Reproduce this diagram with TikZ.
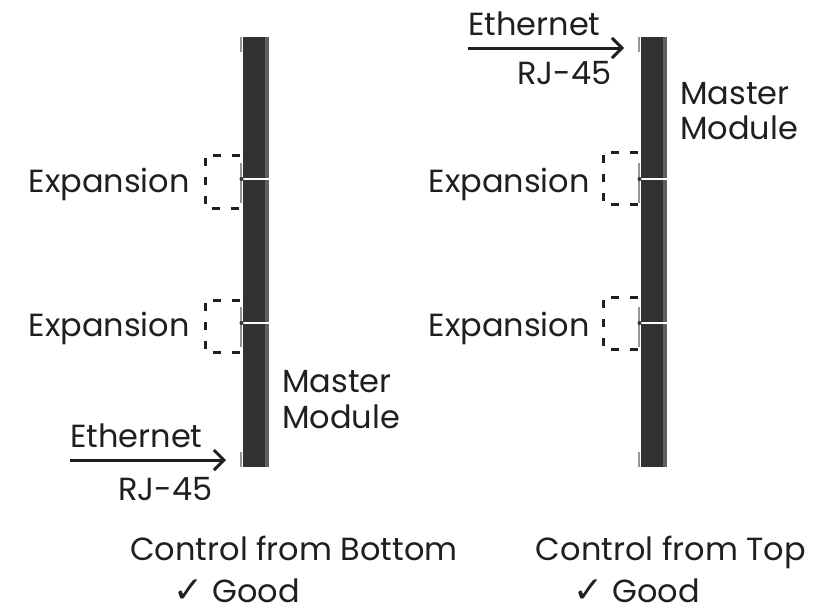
\documentclass[tikz,border=0pt]{standalone}
\usepackage{fontspec}
\setmainfont{Poppins}
\newfontfamily\symfont{DejaVu Sans}
\usetikzlibrary{arrows.meta}
\definecolor{bardark}{RGB}{50,50,50}
\definecolor{barlight}{RGB}{95,95,95}
\definecolor{tabgray}{RGB}{150,150,150}
\tikzset{
  lbl/.style={inner sep=0pt,font=\fontsize{32}{35}\selectfont,text=black!88},
  dashbox/.style={line width=3pt,dash pattern=on 8pt off 11pt,black!88},
  feed/.style={line width=3pt,black!88,-{Straight Barb[length=10pt,width=20pt,line width=3pt]}},
  tab/.style={tabgray,line width=1.2pt}
}
\begin{document}
\begin{tikzpicture}[x=1pt,y=-1pt]
\useasboundingbox (0,0) rectangle (820,614);

% the two columns
\foreach \xx/\nm in {243/left,641/right}{
  \fill[bardark] (\xx,37) rectangle ++(26,430);
  \fill[barlight] (\xx+22,37) rectangle ++(4,430);
  \draw[white,line width=2.5pt] (\xx,179) -- ++(26,0);
  \draw[white,line width=2.5pt] (\xx,323) -- ++(26,0);
  % small tabs
  \draw[tab] (\xx-2,37) -- ++(0,15);
  \draw[tab] (\xx-2,163) -- ++(0,40);
  \draw[tab] (\xx-2,307) -- ++(0,40);
  \draw[tab] (\xx-2,452) -- ++(0,15);
  \fill[bardark] (\xx-1.5,179) circle (2pt);
  \fill[bardark] (\xx-1.5,323) circle (2pt);
}

% expansion boxes
\draw[dashbox] (240,155) -- (205,155) -- (205,208) -- (240,208);
\draw[dashbox] (240,300) -- (205,300) -- (205,352) -- (240,352);
\draw[dashbox] (638,152) -- (603,152) -- (603,204) -- (638,204);
\draw[dashbox] (638,297) -- (603,297) -- (603,349) -- (638,349);

\node[lbl,anchor=base east] (expL1) at (190,192) {Expansion};
\node[lbl,anchor=base east] (expL2) at (190,336) {Expansion};
\node[lbl,anchor=base east] (expR1) at (590,192) {Expansion};
\node[lbl,anchor=base east] (expR2) at (590,336) {Expansion};

% master module
\node[lbl,anchor=base west] (mastL) at (282,392) {Master};
\node[lbl,anchor=base west] (modL) at (282,428) {Module};
\node[lbl,anchor=base west] (mastR) at (680,104) {Master};
\node[lbl,anchor=base west] (modR) at (680,139) {Module};

% ethernet feeds
\coordinate (inL) at (70,460);
\coordinate (tipL) at (226,460);
\coordinate (inR) at (468,48);
\coordinate (tipR) at (624,48);
\draw[feed] (inL) -- (tipL);
\draw[feed] (inR) -- (tipR);
\node[lbl,anchor=base west] (ethL) at (70,447) {Ethernet};
\node[lbl,anchor=base east] (rjL) at (213,500) {RJ-45};
\node[lbl,anchor=base west] (ethR) at (468,35) {Ethernet};
\node[lbl,anchor=base east] (rjR) at (612,84) {RJ-45};

% captions
\node[lbl,anchor=base] (capL) at (294,560) {Control from Bottom};
\node[lbl,anchor=base] (capR) at (671,560) {Control from Top};
\node[lbl,anchor=base] (okL) at (237,602) {{\symfont\fontsize{36}{36}\selectfont ✓} Good};
\node[lbl,anchor=base] (okR) at (637,602) {{\symfont\fontsize{36}{36}\selectfont ✓} Good};
\end{tikzpicture}
\end{document}
